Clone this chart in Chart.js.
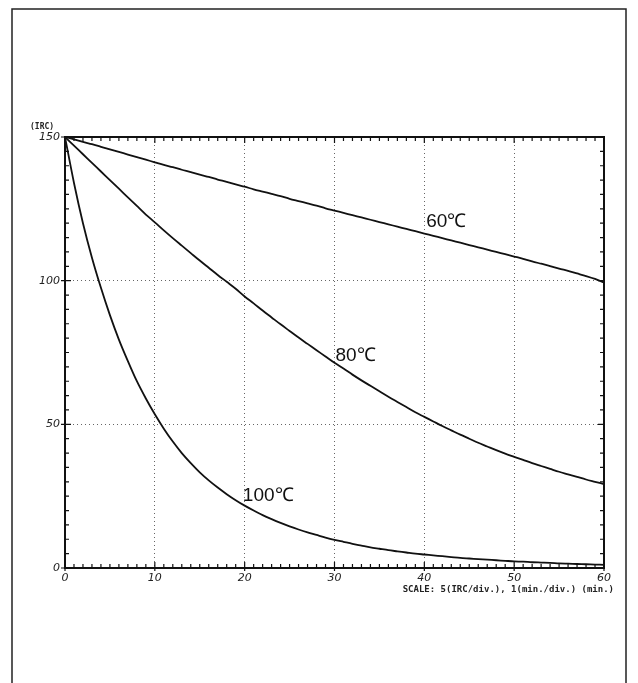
<!DOCTYPE html>
<html lang="en">
<head>
  <meta charset="UTF-8">
  <title>Decay curves</title>
  <script src="https://cdn.jsdelivr.net/npm/chart.js"></script>
  <style>
    html, body { margin: 0; padding: 0; background: #fff; }
    canvas { display: block; }
  </style>
</head>
<body>
  <canvas id="decayChart" width="638" height="683"></canvas>

  <script>
    // time axis, minutes
    const minutes = [];
    for (let m = 0; m <= 60; m++) minutes.push(m);

    const curve60 = [
      150, 149.2, 148.3, 147.5, 146.6, 145.7, 144.8, 143.9, 143.0, 142.1, 141.2,
      140.3, 139.5, 138.6, 137.8, 136.9, 136.1, 135.2, 134.4, 133.5, 132.7,
      131.8, 131.0, 130.2, 129.4, 128.5, 127.7, 126.9, 126.1, 125.2, 124.4,
      123.6, 122.8, 122.0, 121.2, 120.4, 119.6, 118.8, 118.0, 117.2, 116.4,
      115.6, 114.8, 114.0, 113.2, 112.4, 111.6, 110.8, 110.0, 109.2, 108.4,
      107.6, 106.7, 105.9, 105.1, 104.2, 103.4, 102.5, 101.6, 100.6, 99.4
    ];

    const curve80 = [
      150, 147, 144, 141, 138, 135, 132, 129, 126, 123, 120.3,
      117.5, 114.8, 112.2, 109.6, 107, 104.5, 102, 99.6, 97.2, 94.5,
      92.1, 89.6, 87.2, 84.8, 82.5, 80.2, 78, 75.8, 73.6, 71.4,
      69.4, 67.3, 65.3, 63.4, 61.5, 59.6, 57.8, 56, 54.2, 52.6,
      51, 49.4, 47.9, 46.4, 45, 43.6, 42.3, 41, 39.8, 38.7,
      37.6, 36.5, 35.5, 34.5, 33.5, 32.6, 31.7, 30.8, 30, 29.2
    ];

    const curve100 = [
      150, 134, 120, 108, 97.5, 88, 79.5, 72, 65, 59, 53.5,
      48.5, 44, 40, 36.5, 33.3, 30.5, 28, 25.7, 23.6, 21.7,
      20, 18.4, 17, 15.7, 14.5, 13.4, 12.4, 11.5, 10.6, 9.8,
      9.1, 8.4, 7.8, 7.2, 6.7, 6.2, 5.8, 5.4, 5, 4.7,
      4.4, 4.1, 3.8, 3.5, 3.3, 3.1, 2.9, 2.7, 2.5, 2.3,
      2.2, 2, 1.9, 1.8, 1.6, 1.5, 1.4, 1.3, 1.2, 1.1
    ];

    const seriesNames = ['60℃', '80℃', '100℃'];
    // where each curve name sits, in axis units (minutes, IRC)
    const nameAnchors = [[40.2, 120.5], [30.1, 74], [19.8, 25.3]];

    const xTicks = [0, 10, 20, 30, 40, 50, 60];
    const yTicks = [0, 50, 100, 150];

    const toPoints = (vals) => vals.map((v, i) => ({ x: minutes[i], y: v }));

    const line = (label, vals) => ({
      label: label,
      data: toPoints(vals),
      borderColor: '#111',
      borderWidth: 1.8,
      pointRadius: 0,
      tension: 0.3,
      fill: false
    });

    const tickFont = { family: 'DejaVu Sans', size: 11, style: 'italic' };

    const plotFrame = {
      id: 'plotFrame',
      beforeDraw(chart) {
        const ctx = chart.ctx;
        ctx.save();
        ctx.fillStyle = '#fff';
        ctx.fillRect(0, 0, chart.width, chart.height);
        // page border
        ctx.strokeStyle = '#222';
        ctx.lineWidth = 1.5;
        ctx.beginPath();
        ctx.moveTo(12, 683);
        ctx.lineTo(12, 9);
        ctx.lineTo(626, 9);
        ctx.lineTo(626, 683);
        ctx.stroke();
        ctx.restore();
      },
      afterDraw(chart) {
        const { ctx, chartArea: a, scales } = chart;
        const xs = scales.x, ys = scales.y;
        ctx.save();
        ctx.strokeStyle = '#111';
        ctx.lineWidth = 2;
        ctx.strokeRect(a.left, a.top, a.right - a.left, a.bottom - a.top);

        // minor ticks, pointing inward on all four sides
        ctx.lineWidth = 1.2;
        ctx.beginPath();
        for (let m = 0; m <= 60; m++) {
          const px = xs.getPixelForValue(m);
          const len = m % 10 === 0 ? 6 : 4;
          ctx.moveTo(px, a.bottom + (m % 10 === 0 ? 3 : 0));
          ctx.lineTo(px, a.bottom - len);
          ctx.moveTo(px, a.top);
          ctx.lineTo(px, a.top + len);
        }
        for (let v = 0; v <= 150; v += 5) {
          const py = ys.getPixelForValue(v);
          const len = v % 50 === 0 ? 6 : 4;
          ctx.moveTo(a.left - (v % 50 === 0 ? 4 : 0), py);
          ctx.lineTo(a.left + len, py);
          ctx.moveTo(a.right, py);
          ctx.lineTo(a.right - len, py);
        }
        ctx.stroke();

        // curve names
        ctx.fillStyle = '#111';
        ctx.font = '19px "Liberation Sans", Arial, sans-serif';
        ctx.textBaseline = 'middle';
        ctx.textAlign = 'left';
        seriesNames.forEach((name, i) => {
          const [mx, my] = nameAnchors[i];
          ctx.fillText(name, xs.getPixelForValue(mx), ys.getPixelForValue(my));
        });

        // axis captions
        ctx.font = 'bold 8px "DejaVu Sans Mono", monospace';
        ctx.fillStyle = '#222';
        ctx.fillText('(IRC)', 30, a.top - 10);
        ctx.textAlign = 'right';
        ctx.font = 'bold 9px "DejaVu Sans Mono", monospace';
        ctx.fillText('SCALE: 5(IRC/div.), 1(min./div.) (min.)', 614, a.bottom + 22);
        ctx.restore();
      }
    };

    new Chart(document.getElementById('decayChart'), {
      type: 'line',
      data: {
        datasets: [
          line(seriesNames[0], curve60),
          line(seriesNames[1], curve80),
          line(seriesNames[2], curve100)
        ]
      },
      options: {
        responsive: false,
        animation: false,
        layout: { padding: { top: 137, right: 34, bottom: 0, left: 0 } },
        plugins: {
          legend: { display: false },
          tooltip: { enabled: false }
        },
        scales: {
          x: {
            type: 'linear',
            min: 0,
            max: 60,
            afterBuildTicks(scale) { scale.ticks = xTicks.map(v => ({ value: v })); },
            afterFit(scale) { scale.height = 115; },
            border: { display: false, dash: [1, 3] },
            grid: {
              color: (c) => (c.tick && (c.tick.value === 0 || c.tick.value === 60)) ? 'rgba(0,0,0,0)' : '#666',
              lineWidth: 1,
              drawTicks: false
            },
            ticks: { color: '#222', font: tickFont, padding: 4, maxRotation: 0 }
          },
          y: {
            min: 0,
            max: 150,
            afterBuildTicks(scale) { scale.ticks = yTicks.map(v => ({ value: v })); },
            afterFit(scale) { scale.width = 65; },
            border: { display: false, dash: [1, 3] },
            grid: {
              color: (c) => (c.tick && (c.tick.value === 0 || c.tick.value === 150)) ? 'rgba(0,0,0,0)' : '#666',
              lineWidth: 1,
              drawTicks: false
            },
            ticks: { color: '#222', font: tickFont, padding: 5 }
          }
        }
      },
      plugins: [plotFrame]
    });
  </script>
</body>
</html>
